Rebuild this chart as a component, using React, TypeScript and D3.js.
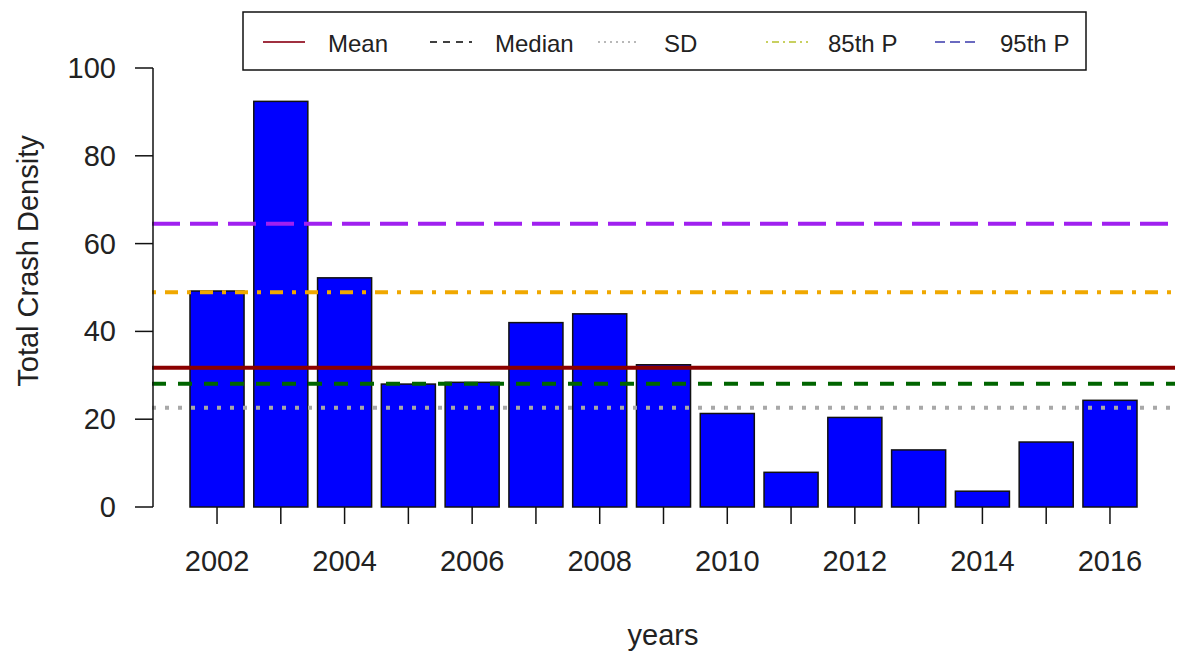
import React from "react";
import * as d3 from "d3";

const years = [2002, 2003, 2004, 2005, 2006, 2007, 2008, 2009, 2010, 2011, 2012, 2013, 2014, 2015, 2016];
const density = [49.2, 92.4, 52.2, 28.0, 28.4, 42.0, 44.0, 32.4, 21.3, 7.9, 20.4, 13.0, 3.6, 14.8, 24.3];
const labeledYears = [2002, 2004, 2006, 2008, 2010, 2012, 2014, 2016];
const yTicks = [0, 20, 40, 60, 80, 100];

const statNames = ["Mean", "Median", "SD", "85th P", "95th P"];
const statValues = [31.7, 28.1, 22.6, 48.9, 64.5];

const W = 1179;
const H = 654;
const FONT = "'Liberation Sans', Arial, sans-serif";
const SPACE = 0.18;

const lineStyles = [
  { color: "#8B0000", dash: "" },
  { color: "#006400", dash: "14 12" },
  { color: "#A8A8A8", dash: "4 9" },
  { color: "#F0A800", dash: "4 9 13 9" },
  { color: "#A020F0", dash: "28 10" },
];
const legendStyles = [
  { color: "#A03040", dash: "" },
  { color: "#404040", dash: "7 6" },
  { color: "#B8B8B8", dash: "2 4" },
  { color: "#C8D060", dash: "2 4 7 4" },
  { color: "#6A6AC0", dash: "10 5" },
];
const legendLineX = [263, 430, 598, 766, 935];
const legendTextX = [328, 495, 664, 828, 1000];

export default function App() {
  const x = d3.scaleLinear().domain([-0.523, 18.403]).range([152, 1175]);
  const y = d3.scaleLinear().domain([0, 100]).range([507, 68]);
  const barLeft = (i: number) => SPACE + (1 + SPACE) * i;
  const mid = (i: number) => barLeft(i) + 0.5;
  const [x0, x1] = x.domain();

  return (
    <svg
      width={W}
      height={H}
      style={{ position: "absolute", left: 0, top: 0, background: "#fff" }}
      fontFamily={FONT}
    >
      <rect x={0} y={0} width={W} height={H} fill="#fff" />
      {/* bars */}
      {density.map((v, i) => (
        <rect
          key={years[i]}
          x={x(barLeft(i))}
          y={y(v)}
          width={x(barLeft(i) + 1) - x(barLeft(i))}
          height={y(0) - y(v)}
          fill="#0000FF"
          stroke="#111"
          strokeWidth={1.5}
        />
      ))}
      {/* stat lines */}
      {statValues.map((v, i) => (
        <line
          key={statNames[i]}
          x1={x(x0)}
          x2={x(x1)}
          y1={y(v)}
          y2={y(v)}
          stroke={lineStyles[i].color}
          strokeWidth={4}
          strokeDasharray={lineStyles[i].dash || undefined}
        />
      ))}
      {/* y axis */}
      <line x1={153} x2={153} y1={y(0)} y2={y(100)} stroke="#111" strokeWidth={1.5} />
      {yTicks.map((t) => (
        <g key={t}>
          <line x1={135} x2={153} y1={y(t)} y2={y(t)} stroke="#111" strokeWidth={1.5} />
          <text x={116} y={y(t) + 10} textAnchor="end" fontSize={29} fill="#222">
            {t}
          </text>
        </g>
      ))}
      {/* x ticks */}
      {years.map((yr, i) => (
        <line key={yr} x1={x(mid(i))} x2={x(mid(i))} y1={y(0)} y2={y(0) + 17} stroke="#111" strokeWidth={1.5} />
      ))}
      {years.map((yr, i) =>
        labeledYears.includes(yr) ? (
          <text key={"l" + yr} x={x(mid(i))} y={571} textAnchor="middle" fontSize={29} fill="#222">
            {yr}
          </text>
        ) : null
      )}
      <text x={663} y={645} textAnchor="middle" fontSize={29} fill="#222">
        years
      </text>
      <text transform={`translate(38, 261) rotate(-90)`} textAnchor="middle" fontSize={29} fill="#222">
        Total Crash Density
      </text>
      {/* legend */}
      <rect x={243} y={12} width={843} height={58} fill="#fff" stroke="#111" strokeWidth={1.5} />
      {statNames.map((s, i) => (
        <g key={"lg" + s}>
          <line
            x1={legendLineX[i]}
            x2={legendLineX[i] + 42}
            y1={42}
            y2={42}
            stroke={legendStyles[i].color}
            strokeWidth={1.8}
            strokeDasharray={legendStyles[i].dash || undefined}
          />
          <text x={legendTextX[i]} y={52} fontSize={24} fill="#222">
            {s}
          </text>
        </g>
      ))}
    </svg>
  );
}
